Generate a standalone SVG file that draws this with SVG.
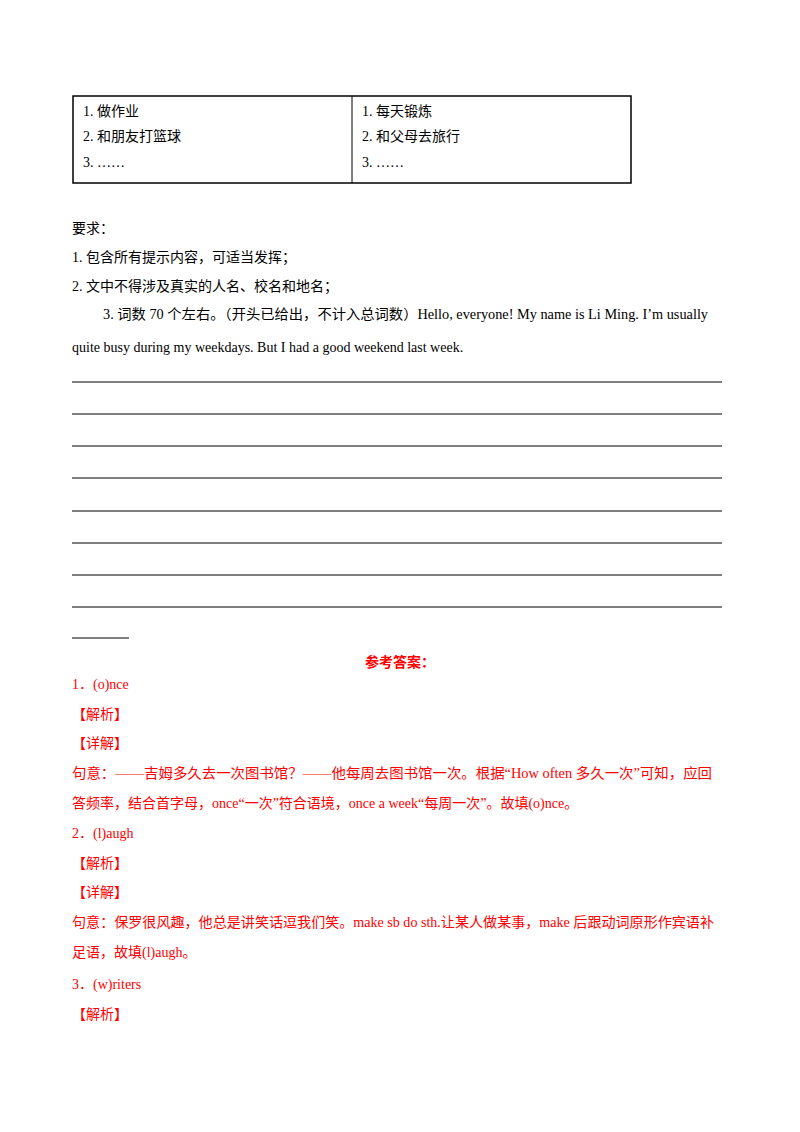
<svg xmlns="http://www.w3.org/2000/svg" width="800" height="1132" viewBox="0 0 800 1132">
<style>
text{font-family:"Liberation Serif","Noto Sans CJK SC",serif;font-size:14px;fill:#000}
.r{fill:#f00}
.b{font-weight:bold}
line{stroke:#000;stroke-width:1}
</style>
<rect width="800" height="1132" fill="#fff"/>
<rect x="73" y="96" width="558" height="87" fill="none" stroke="#000" stroke-width="1.5"/>
<line x1="352" y1="96" x2="352" y2="183" stroke-width="1.5"/>
<text x="83" y="116">1.  做作业</text>
<text x="83" y="141">2.  和朋友打篮球</text>
<text x="83" y="167">3. ……</text>
<text x="362" y="116">1.  每天锻炼</text>
<text x="362" y="141">2.  和父母去旅行</text>
<text x="362" y="167">3. ……</text>
<text x="72" y="233">要求：</text>
<text x="72" y="262">1.  包含所有提示内容，可适当发挥；</text>
<text x="72" y="291">2.  文中不得涉及真实的人名、校名和地名；</text>
<text x="103" y="319" textLength="605" lengthAdjust="spacingAndGlyphs">3.  词数 70 个左右。（开头已给出，不计入总词数）Hello, everyone! My name is Li Ming. I’m usually</text>
<text x="72" y="352">quite busy during my weekdays. But I had a good weekend last week.</text>
<g>
<line x1="72" y1="382" x2="722" y2="382"/>
<line x1="72" y1="414" x2="722" y2="414"/>
<line x1="72" y1="446" x2="722" y2="446"/>
<line x1="72" y1="478" x2="722" y2="478"/>
<line x1="72" y1="511" x2="722" y2="511"/>
<line x1="72" y1="543" x2="722" y2="543"/>
<line x1="72" y1="575" x2="722" y2="575"/>
<line x1="72" y1="607" x2="722" y2="607"/>
<line x1="72" y1="638" x2="129" y2="638"/>
</g>
<text x="400" y="667" class="r b" text-anchor="middle">参考答案：</text>
<text x="72" y="689" class="r">1．(o)nce</text>
<text x="72" y="719" class="r">【解析】</text>
<text x="72" y="748" class="r">【详解】</text>
<text x="72" y="778" class="r" textLength="640" lengthAdjust="spacingAndGlyphs">句意：——吉姆多久去一次图书馆？——他每周去图书馆一次。根据“How often 多久一次”可知，应回</text>
<text x="72" y="808" class="r">答频率，结合首字母，once“一次”符合语境，once a week“每周一次”。故填(o)nce。</text>
<text x="72" y="838" class="r">2．(l)augh</text>
<text x="72" y="868" class="r">【解析】</text>
<text x="72" y="897" class="r">【详解】</text>
<text x="72" y="927" class="r" textLength="642" lengthAdjust="spacingAndGlyphs">句意：保罗很风趣，他总是讲笑话逗我们笑。make sb do sth.让某人做某事，make 后跟动词原形作宾语补</text>
<text x="72" y="957" class="r">足语，故填(l)augh。</text>
<text x="72" y="989" class="r">3．(w)riters</text>
<text x="72" y="1019" class="r">【解析】</text>
</svg>
